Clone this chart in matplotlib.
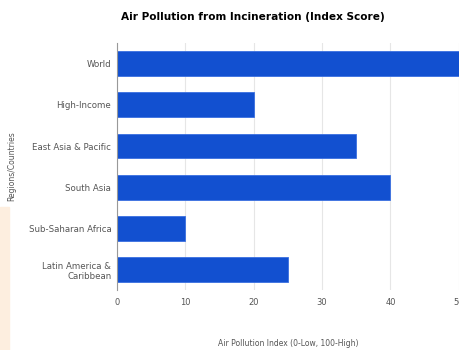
import matplotlib.pyplot as plt
from matplotlib.patches import Rectangle

regions = ["World", "High-Income", "East Asia & Pacific", "South Asia",
           "Sub-Saharan Africa", "Latin America &\nCaribbean"]
scores = [50, 20, 35, 40, 10, 25]
xticks = [0, 10, 20, 30, 40, 50]

fig = plt.figure(figsize=(4.6, 3.5), dpi=100)
ax = fig.add_axes([0.254, 0.171, 0.7435, 0.706])

y = list(range(len(regions)))
ax.barh(y, scores, height=0.6, color="#1250d0", edgecolor="#3a6fe0",
        linewidth=0.6, zorder=2)
ax.set_ylim(len(regions) - 0.5, -0.5)
ax.set_xlim(0, 50)
ax.set_yticks(y)
ax.set_yticklabels(regions, fontsize=6.2, color="#555555")
ax.set_xticks(xticks)
ax.set_xticklabels([str(t) for t in xticks], fontsize=6, color="#555555")
ax.tick_params(length=0, pad=4)
ax.tick_params(axis="x", pad=6)
ax.grid(axis="x", color="#e6e6e6", linewidth=0.8, zorder=0)

for s in ["top", "right", "bottom"]:
    ax.spines[s].set_visible(False)
ax.spines["left"].set_color("#999999")
ax.spines["left"].set_linewidth(0.8)

ax.set_xlabel("Air Pollution Index (0-Low, 100-High)", fontsize=5.5,
              color="#555555", labelpad=23)
ax.set_ylabel("Regions/Countries", fontsize=5.5, color="#555555", labelpad=9)

fig.text(0.55, 0.95, "Air Pollution from Incineration (Index Score)",
         ha="center", va="center", fontsize=7.6, fontweight="bold")

# faint tinted strip along the left edge
fig.patches.append(Rectangle((0, 0), 0.02, 0.41, transform=fig.transFigure,
                             color="#fdeedf", zorder=0))

fig.savefig("out.png", dpi=100)
